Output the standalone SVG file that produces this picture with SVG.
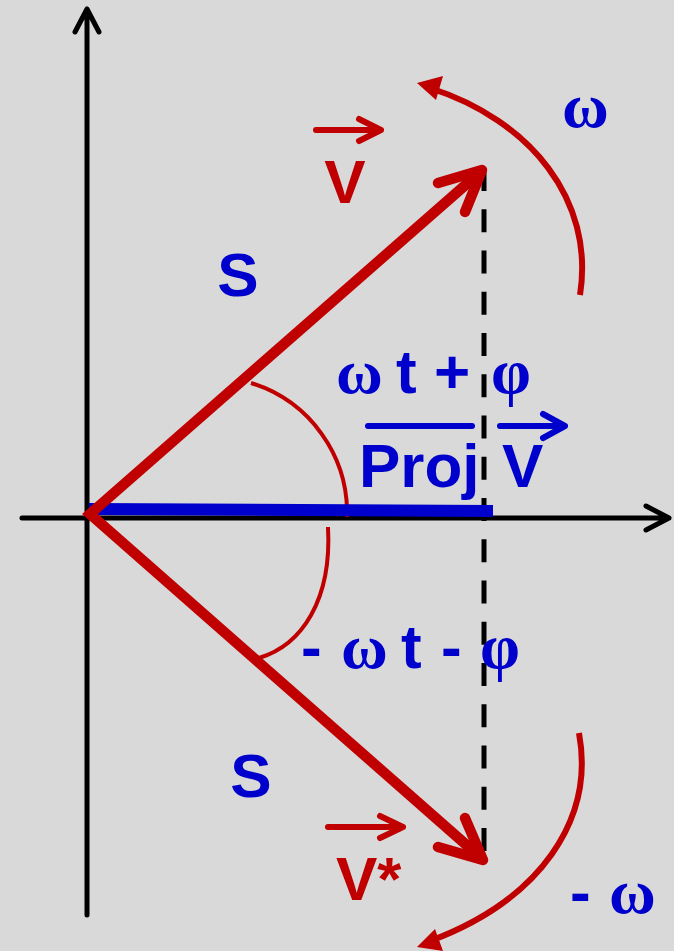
<svg xmlns="http://www.w3.org/2000/svg" width="674" height="951" viewBox="0 0 674 951">
  <style>
    .ax{fill:none;stroke:#000;stroke-width:5;stroke-linecap:round;stroke-linejoin:round}
    .dash{fill:none;stroke:#000;stroke-width:5;stroke-dasharray:23 18.25}
    .vec{fill:none;stroke:#c00000;stroke-width:10.5;stroke-linecap:round;stroke-linejoin:round}
    .vecm{fill:none;stroke:#c00000;stroke-width:10.5;stroke-linecap:butt;stroke-linejoin:miter;stroke-miterlimit:4}
    .arc{fill:none;stroke:#c00000;stroke-width:4}
    .rot{fill:none;stroke:#c00000;stroke-width:6}
    .head{fill:#c00000;stroke:none}
    .rarr{fill:none;stroke:#c00000;stroke-width:6;stroke-linecap:round;stroke-linejoin:round}
    .barr{fill:none;stroke:#0000cc;stroke-width:6;stroke-linecap:round;stroke-linejoin:round}
    .sans{font-family:"Liberation Sans",Arial,sans-serif;font-weight:bold;font-size:62px}
    .ser{font-family:"Liberation Serif","Times New Roman",serif;font-weight:bold;font-size:64px}
    .blue{fill:#0000cc}
    .red{fill:#c00000}
  </style>
  <rect x="0" y="0" width="674" height="951" fill="#d9d9d9"/>

  <g id="axes">
    <path class="ax" d="M87,915 L87,9 M75,32 L87,9 L99,32"/>
    <path class="ax" d="M22,518 L669,518 M646,506 L669,518 L646,530"/>
  </g>

  <g id="connectors">
    <path class="dash" d="M484,168 L484,855"/>
    <path class="arc" d="M251,383 A136,136 0 0 1 347,517"/>
    <path class="arc" d="M328,527 C332,600 302,645 259,658"/>
    <path class="rot" d="M580,295 C595,200 530,120 430,88"/>
    <polygon class="head" points="417,83 443,76 436,100"/>
    <path class="rot" d="M579,733 C595,820 540,900 430,941"/>
    <polygon class="head" points="417,947 435,929 443,951"/>
  </g>

  <g id="proj">
    <polygon fill="#0000cc" points="89,503 493,505 493,517 89,515"/>
  </g>

  <g id="vectors">
    <path class="vecm" d="M478,174 L90,514 L479,856"/>
    <path class="vec" d="M438,183 L482,170 L465,212"/>
    <path class="vec" d="M438,847 L483,860 L465,818"/>
  </g>

  <g id="label-v">
    <path class="rarr" d="M316,130 L381,130 M359,119 L381,130 L359,141"/>
    <text class="sans red" x="345" y="203" text-anchor="middle">V</text>
  </g>

  <g id="label-vstar">
    <path class="rarr" d="M328,827 L403,827 M380,816 L403,827 L380,838"/>
    <text class="sans red" x="336" y="900">V*</text>
  </g>

  <g id="label-s-top">
    <text class="sans blue" x="238" y="296" text-anchor="middle">S</text>
  </g>
  <g id="label-s-bottom">
    <text class="sans blue" x="251" y="797" text-anchor="middle">S</text>
  </g>

  <g id="label-angle-pos">
    <text class="sans blue" y="393"><tspan class="ser" x="336">ω </tspan><tspan x="396">t </tspan><tspan x="434">+ </tspan><tspan class="ser" x="491">φ</tspan></text>
  </g>

  <g id="label-angle-neg">
    <text class="sans blue" y="668"><tspan x="301">- </tspan><tspan class="ser" x="341">ω </tspan><tspan x="401">t </tspan><tspan x="441">- </tspan><tspan class="ser" x="480">φ</tspan></text>
  </g>

  <g id="label-proj">
    <path class="barr" d="M368,426 L472,426"/>
    <path class="barr" d="M500,426 L565,426 M543,414 L565,426 L543,438"/>
    <text class="sans blue" y="487"><tspan x="359">Proj </tspan><tspan x="502">V</tspan></text>
  </g>

  <g id="label-omega">
    <text class="ser blue" x="562" y="127">ω</text>
  </g>
  <g id="label-neg-omega">
    <text class="sans blue" y="913"><tspan x="570">- </tspan><tspan class="ser" x="609">ω</tspan></text>
  </g>
</svg>
